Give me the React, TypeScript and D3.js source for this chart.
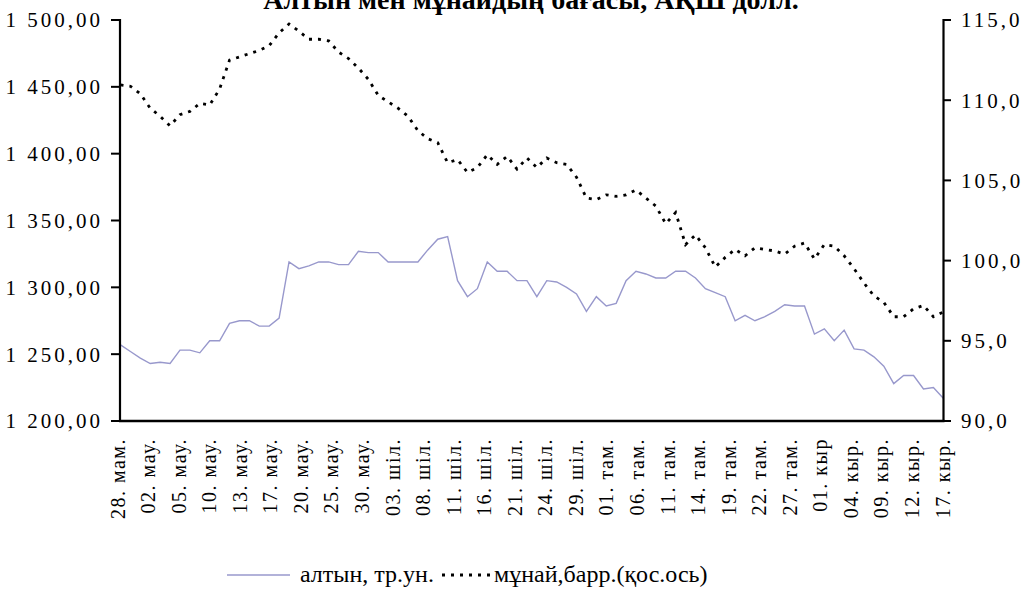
import React from "react";
import * as d3 from "d3";

const TITLE = "Алтын мен мұнайдың бағасы, АҚШ долл.";

const dateLabels: string[] = [
  "28. мам.", "02. мау.", "05. мау.", "10. мау.", "13. мау.", "17. мау.", "20. мау.",
  "25. мау.", "30. мау.", "03. шіл.", "08. шіл.", "11. шіл.", "16. шіл.", "21. шіл.",
  "24. шіл.", "29. шіл.", "01. там.", "06. там.", "11. там.", "14. там.", "19. там.",
  "22. там.", "27. там.", "01. кыр", "04. кыр.", "09. кыр.", "12. кыр.", "17. кыр.",
];

const goldValues: number[] = [
  1257, 1252, 1247, 1243, 1244, 1243, 1253, 1253, 1251, 1260,
  1260, 1273, 1275, 1275, 1271, 1271, 1277, 1319, 1314, 1316,
  1319, 1319, 1317, 1317, 1327, 1326, 1326, 1319, 1319, 1319,
  1319, 1328, 1336, 1338, 1305, 1293, 1299, 1319, 1312, 1312,
  1305, 1305, 1293, 1305, 1304, 1300, 1295, 1282, 1293, 1286,
  1288, 1305, 1312, 1310, 1307, 1307, 1312, 1312, 1307, 1299,
  1296, 1293, 1275, 1279, 1275, 1278, 1282, 1287, 1286, 1286,
  1265, 1269, 1260, 1268, 1254, 1253, 1248, 1241, 1228, 1234,
  1234, 1224, 1225, 1217,
];

const oilValues: number[] = [
  110.95, 110.87, 110.4, 109.5, 109.0, 108.4, 109.1, 109.3, 109.8, 109.7,
  110.7, 112.5, 112.7, 112.9, 113.1, 113.4, 114.2, 114.75, 114.3, 113.8,
  113.8, 113.7, 113.0, 112.6, 112.0, 111.3, 110.3, 109.9, 109.5, 109.0,
  108.1, 107.6, 107.35, 106.1, 106.3, 105.5, 105.8, 106.6, 106.0, 106.5,
  105.7, 106.4, 105.8, 106.4, 106.1, 106.0, 105.2, 103.9, 103.8, 104.1,
  104.0, 104.1, 104.4, 103.9, 103.4, 102.3, 103.0, 101.0, 101.6, 100.8,
  99.6, 100.2, 100.7, 100.3, 100.8, 100.7, 100.6, 100.4, 100.9, 101.1,
  100.1, 101.0, 100.9, 100.3, 99.5, 98.6, 97.8, 97.4, 96.5, 96.5,
  97.0, 97.2, 96.5, 96.8,
];

const leftTicks: number[] = [1200, 1250, 1300, 1350, 1400, 1450, 1500];
const rightTicks: number[] = [90, 95, 100, 105, 110, 115];

const goldLegend = "алтын, тр.ун.";
const oilLegend = "мұнай,барр.(қос.ось)";

const W = 1024;
const H = 590;
const plotLeft = 120;
const plotRight = 943.5;
const plotTop = 20;
const plotBottom = 421;

const serif = "'Liberation Serif', 'Times New Roman', serif";

function fmtLeft(v: number): string {
  const s = d3.format(",.2f")(v);
  return s.replace(/,/g, " ").replace(".", ",");
}
function fmtRight(v: number): string {
  return d3.format(".1f")(v).replace(".", ",");
}

export default function App() {
  const x = d3.scaleLinear().domain([0, goldValues.length - 1]).range([120.5, 943.3]);
  const yL = d3.scaleLinear().domain([1200, 1500]).range([plotBottom, plotTop]);
  const yR = d3.scaleLinear().domain([90, 115]).range([plotBottom, plotTop]);
  const xLab = d3.scalePoint<string>().domain(dateLabels).range([117.5, 942.5]);

  const goldLine = d3.line<number>().x((_, i) => x(i)).y((d) => yL(d));
  const oilLine = d3.line<number>().x((_, i) => x(i)).y((d) => yR(d));

  const goldColor = "#9898cc";

  return (
    <svg
      width={W}
      height={H}
      viewBox={`0 0 ${W} ${H}`}
      style={{ position: "absolute", left: 0, top: 0, display: "block", background: "#fff" }}
    >
      <rect x={0} y={0} width={W} height={H} fill="#fff" />
      <text
        x={531}
        y={9}
        textAnchor="middle"
        fontFamily={serif}
        fontWeight="bold"
        fontSize={28}
        fill="#000"
      >
        {TITLE}
      </text>

      {/* lines */}
      <path d={goldLine(goldValues) || ""} fill="none" stroke={goldColor} strokeWidth={1.4} />
      <path
        d={oilLine(oilValues) || ""}
        fill="none"
        stroke="#000"
        strokeWidth={2.8}
        strokeDasharray="3,6"
      />

      {/* left axis */}
      <line x1={plotLeft} x2={plotLeft} y1={plotTop - 1} y2={plotBottom + 1} stroke="#000" strokeWidth={2.2} />
      {leftTicks.map((t) => (
        <g key={"l" + t}>
          <line x1={111} x2={plotLeft} y1={yL(t)} y2={yL(t)} stroke="#000" strokeWidth={2} />
          <text
            x={103}
            y={yL(t)}
            dy="0.35em"
            textAnchor="end"
            fontFamily={serif}
            fontSize={21}
            letterSpacing={3}
            fill="#000"
          >
            {fmtLeft(t)}
          </text>
        </g>
      ))}

      {/* right axis */}
      <line x1={plotRight} x2={plotRight} y1={plotTop - 1} y2={plotBottom + 1} stroke="#000" strokeWidth={2.2} />
      {rightTicks.map((t) => (
        <g key={"r" + t}>
          <line x1={plotRight} x2={951} y1={yR(t)} y2={yR(t)} stroke="#000" strokeWidth={2} />
          <text
            x={961}
            y={yR(t)}
            dy="0.35em"
            textAnchor="start"
            fontFamily={serif}
            fontSize={21}
            letterSpacing={3}
            fill="#000"
          >
            {fmtRight(t)}
          </text>
        </g>
      ))}

      {/* bottom axis */}
      <line x1={plotLeft - 1} x2={plotRight + 1} y1={plotBottom} y2={plotBottom} stroke="#000" strokeWidth={2.6} />
      {dateLabels.map((lab) => {
        const px = xLab(lab) as number;
        return (
          <text
            key={lab}
            transform={`translate(${px},438) rotate(-90)`}
            dy="0.35em"
            textAnchor="end"
            fontFamily={serif}
            fontSize={20}
            letterSpacing={1.5}
            fill="#000"
          >
            {lab}
          </text>
        );
      })}

      {/* legend */}
      <line x1={227} x2={290} y1={575} y2={575} stroke={goldColor} strokeWidth={1.4} />
      <text x={300} y={582} fontFamily={serif} fontSize={24} fill="#000">
        {goldLegend}
      </text>
      <line x1={442} x2={491} y1={575} y2={575} stroke="#000" strokeWidth={2.8} strokeDasharray="3,6" />
      <text x={494} y={582} fontFamily={serif} fontSize={24} fill="#000">
        {oilLegend}
      </text>
    </svg>
  );
}
